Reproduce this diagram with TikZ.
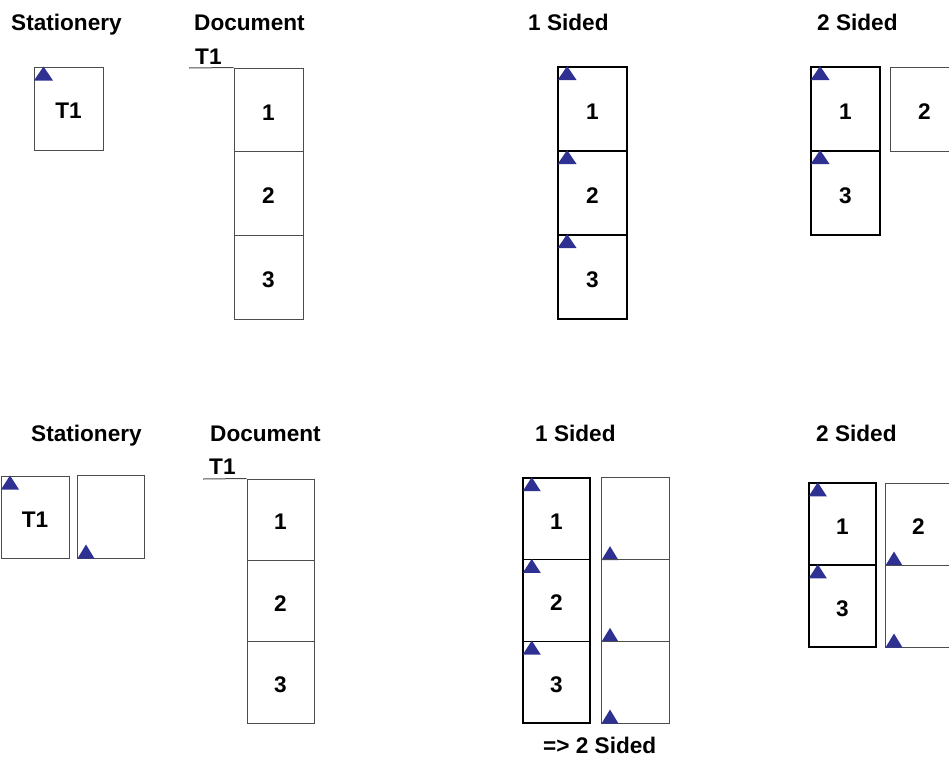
\documentclass[tikz,border=0pt]{standalone}
\usepackage{fontspec}
\setmainfont{Liberation Sans}
\definecolor{triblue}{RGB}{46,49,146}
\begin{document}
\begin{tikzpicture}[x=1pt,y=-1pt,
  txt/.style={font=\bfseries\fontsize{22.6}{26}\selectfont, inner sep=0pt},
  lbl/.style={txt, anchor=base west},
  pg/.style={draw=black!70, line width=1pt, inner sep=0pt, text height=20.5pt, text depth=0pt, font=\bfseries\fontsize{22.6}{26}\selectfont},
  pgk/.style={pg, draw=black, line width=1.8pt},
  tri/.style={fill=triblue, draw=none}]
\useasboundingbox (0,0) rectangle (949,758);
\clip (0,0) rectangle (949,758);
% ---------- top row ----------
\node[lbl] (tS) at (11,30) {Stationery};
\node[lbl] (tD) at (194,30) {Document};
\node[lbl] (t1S) at (528,30) {1 Sided};
\node[lbl] (t2S) at (817,30) {2 Sided};
\node[pg, minimum width=69, minimum height=83] (ts1) at (68.5,108.5) {T1};
\fill[tri] (ts1.north west) ++(0.5,14) -- ++(19,0) -- ++(-9.5,-14) -- cycle;
\node[lbl] (tT1) at (195,64) {T1};
\coordinate (tl) at (189,68);
\node[pg, minimum width=69, minimum height=83.7] (td1) at (268.5,109.85) {1};
\node[pg, minimum width=69, minimum height=83.7] (td2) at (268.5,193.55) {2};
\node[pg, minimum width=69, minimum height=83.7] (td3) at (268.5,277.25) {3};
\draw[black!70, line width=1pt] (tl) -- (td1.north west);
\foreach \i/\y in {1/109,2/193,3/277}{
  \node[pgk, minimum width=69, minimum height=84] (to\i) at (592.5,\y) {\i};
  \fill[tri] (to\i.north west) ++(0.5,14) -- ++(19,0) -- ++(-9.5,-14) -- cycle;
}
\node[pgk, minimum width=69, minimum height=84] (tw1) at (845.5,109) {1};
\fill[tri] (tw1.north west) ++(0.5,14) -- ++(19,0) -- ++(-9.5,-14) -- cycle;
\node[pgk, minimum width=69, minimum height=84] (tw3) at (845.5,193) {3};
\fill[tri] (tw3.north west) ++(0.5,14) -- ++(19,0) -- ++(-9.5,-14) -- cycle;
\node[pg, minimum width=69, minimum height=84] (tw2) at (924.5,109) {2};
% ---------- bottom row ----------
\node[lbl] (bS) at (31,441) {Stationery};
\node[lbl] (bD) at (210,441) {Document};
\node[lbl] (b1S) at (535,441) {1 Sided};
\node[lbl] (b2S) at (816,441) {2 Sided};
\node[pg, minimum width=68, minimum height=82] (bs1) at (35,517) {T1};
\fill[tri] (bs1.north west) ++(0.5,14) -- ++(18,0) -- ++(-9,-14) -- cycle;
\node[pg, minimum width=67, minimum height=83] (bs2) at (110.5,516.5) {};
\fill[tri] (bs2.south west) ++(1,0) -- ++(17,0) -- ++(-8.5,-14) -- cycle;
\node[lbl] (bT1) at (209,474) {T1};
\coordinate (bl) at (203,479);
\node[pg, minimum width=67, minimum height=81.4] (bd1) at (280.5,519.7) {1};
\node[pg, minimum width=67, minimum height=81.4] (bd2) at (280.5,601.1) {2};
\node[pg, minimum width=67, minimum height=81.4] (bd3) at (280.5,682.5) {3};
\draw[black!70, line width=1pt] (bl) -- (bd1.north west);
\foreach \i/\y in {1/518.8,2/600.5,3/682.2}{
  \node[pgk, line width=1.5pt, minimum width=67, minimum height=81.7] (bo\i) at (556.5,\y) {\i};
  \fill[tri] (bo\i.north west) ++(0.5,14) -- ++(18,0) -- ++(-9,-14) -- cycle;
  \node[pg, minimum width=68, minimum height=81.7] (bb\i) at (635,\y) {};
  \fill[tri] (bb\i.south west) ++(1,0) -- ++(17,0) -- ++(-8.5,-14) -- cycle;
}
\node[lbl] (b2note) at (543,753) {=> 2 Sided};
\node[pgk, line width=1.5pt, minimum width=67, minimum height=82] (bw1) at (842.5,524) {1};
\fill[tri] (bw1.north west) ++(0.5,14) -- ++(18,0) -- ++(-9,-14) -- cycle;
\node[pgk, line width=1.5pt, minimum width=67, minimum height=82] (bw3) at (842.5,606) {3};
\fill[tri] (bw3.north west) ++(0.5,14) -- ++(18,0) -- ++(-9,-14) -- cycle;
\node[pg, minimum width=67, minimum height=82] (bw2) at (918.5,524) {2};
\fill[tri] (bw2.south west) ++(1,0) -- ++(17,0) -- ++(-8.5,-14) -- cycle;
\node[pg, minimum width=67, minimum height=82] (bw4) at (918.5,606) {};
\fill[tri] (bw4.south west) ++(1,0) -- ++(17,0) -- ++(-8.5,-14) -- cycle;
\end{tikzpicture}
\end{document}
